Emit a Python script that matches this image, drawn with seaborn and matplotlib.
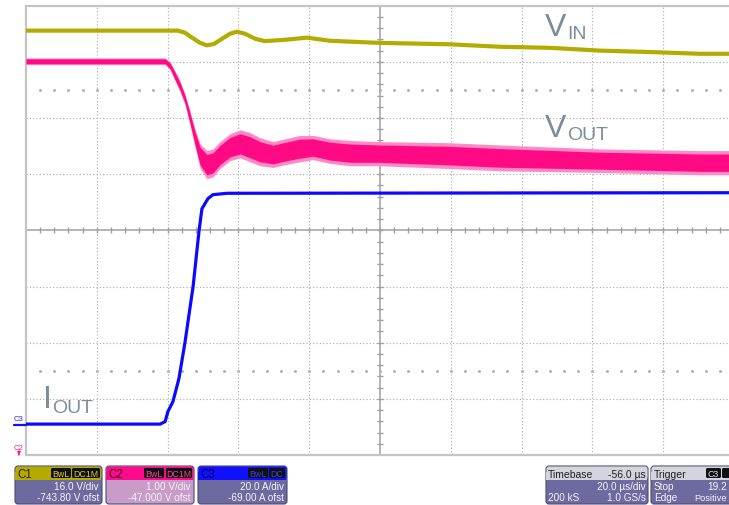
import numpy as np
import pandas as pd
import seaborn as sns
import matplotlib.pyplot as plt
from matplotlib.patches import FancyBboxPatch, Rectangle

# scope capture, time in us (trigger at 0)
t_vin = [-44.0, -1.1, 0.9, 2.9, 5.2, 7.1, 9.1, 11.4, 13.6, 15.6, 17.9, 20.7, 23.5,
         29.2, 35.4, 41.9, 56.0, 75.8, 89.9, 104.0, 118.2, 132.3, 146.4, 156.0]
vin = [800.7, 800.7, 800.1, 798.7, 797.2, 796.5, 796.9, 798.4, 799.8, 800.4, 799.8, 798.4, 797.7,
       798.1, 798.7, 797.8, 797.2, 796.8, 796.1, 795.8, 795.0, 794.6, 794.1, 794.1]

t_vout = [-44.0, -23.1, -4.7, -3.3, -1.9, -0.5, 0.9, 2.3, 3.7, 5.2, 7.1, 8.8, 10.8, 13.6, 16.5,
          19.3, 22.1, 25.8, 29.2, 33.4, 37.1, 41.9, 47.5, 56.0, 75.8, 89.9, 118.2, 146.4, 156.0]
vout_hi = [50.07, 50.07, 50.07, 50.00, 49.84, 49.66, 49.43, 49.13, 48.81, 48.54, 48.42, 48.45, 48.58, 48.72, 48.79,
           48.74, 48.65, 48.58, 48.63, 48.69, 48.69, 48.63, 48.60, 48.58, 48.56, 48.52, 48.45, 48.42, 48.42]
vout_lo = [49.95, 49.95, 49.95, 49.86, 49.66, 49.47, 49.24, 48.88, 48.49, 48.10, 47.92, 47.95, 48.10, 48.24, 48.29,
           48.22, 48.15, 48.12, 48.17, 48.22, 48.26, 48.19, 48.15, 48.15, 48.10, 48.06, 48.03, 47.99, 47.99]

t_iout = [-44.0, -6.1, -4.7, -3.9, -2.5, -0.8, 0.9, 3.2, 4.3, 4.9, 5.7, 7.4, 8.8, 12.8, 156.0]
iout = [0.0, 0.0, 0.9, 4.5, 8.0, 16.2, 29.0, 49.0, 62.0, 69.0, 76.7, 80.3, 81.7, 82.2, 82.4]

# channel settings from the scope panels
C1_SCALE, C1_OFST = 16.0, -743.80
C2_SCALE, C2_OFST = 1.00, -47.000
C3_SCALE, C3_OFST = 20.0, -69.00
T_DIV, T_DELAY = 20.0, -56.0


def to_div(v, scale, ofst):
    return (np.asarray(v) + ofst) / scale


sns.set_style("white")
plt.rcParams['font.family'] = ['Liberation Sans', 'DejaVu Sans']

W, H = 729, 506
fig = plt.figure(figsize=(W / 100, H / 100), dpi=100)
ax = fig.add_axes([26 / W, 50 / H, 708 / W, 449.3 / H])

t0 = -T_DELAY - 5 * T_DIV
ax.set_xlim(t0, t0 + 10 * T_DIV)
ax.set_ylim(-4, 4)

# graticule
grid_c = '#a9a9a9'
for k in range(1, 10):
    x = t0 + k * T_DIV
    if k == 5:
        ax.axvline(x, color='#a0a0a0', lw=1.1, zorder=1)
    else:
        ax.axvline(x, color=grid_c, lw=0.8, ls=(0, (1, 2)), zorder=1)
for k in range(-3, 4):
    if k == 0:
        ax.axhline(0, color='#a0a0a0', lw=1.1, zorder=1)
    else:
        ax.axhline(k, color=grid_c, lw=0.8, ls=(0, (1, 2)), zorder=1)
xt = t0 + np.arange(1, 50) * T_DIV / 5
yt = np.arange(-19, 20) / 5
ax.plot(xt, np.zeros_like(xt), ls='none', marker='|', ms=4.5, mew=1.0, color='#a0a0a0', zorder=1)
ax.plot(np.full_like(yt, -T_DELAY), yt, ls='none', marker='_', ms=4.5, mew=1.0, color='#a0a0a0', zorder=1)
for yy in (2.5, -2.5):
    ax.plot(xt, np.full_like(xt, yy), ls='none', marker='s', ms=1.0, color='#b0b0b0', zorder=1)

for side in ('left', 'top', 'bottom'):
    ax.spines[side].set_color('#c4c4c4')
    ax.spines[side].set_linewidth(1.6)
ax.spines['right'].set_visible(False)
ax.set_xticks([])
ax.set_yticks([])

# traces
df_vin = pd.DataFrame({'t': t_vin, 'div': to_div(vin, C1_SCALE, C1_OFST)})
df_iout = pd.DataFrame({'t': t_iout, 'div': to_div(iout, C3_SCALE, C3_OFST)})
hi = to_div(vout_hi, C2_SCALE, C2_OFST)
lo = to_div(vout_lo, C2_SCALE, C2_OFST)
mid = (hi + lo) / 2
half = (hi - lo) / 2

ax.fill_between(t_vout, lo, hi, color='#ff8ac6', lw=0, zorder=3)
ax.fill_between(t_vout, mid - 0.72 * half, mid + 0.72 * half, color='#ff0a84', lw=0, zorder=3)
sns.lineplot(data=df_iout, x='t', y='div', ax=ax, color='#0a0aff', lw=2.3,
             estimator=None, sort=False, zorder=4)
sns.lineplot(data=df_vin, x='t', y='div', ax=ax, color='#b3ac00', lw=3.0,
             estimator=None, sort=False, zorder=4)
ax.set_xlabel('')
ax.set_ylabel('')

# trigger marker
ax.plot([0], [-0.075], transform=ax.get_xaxis_transform(), marker='^', ms=6,
        color='#1010e0', clip_on=False, zorder=6)

# overlay in pixel coordinates for labels and panels
ov = fig.add_axes([0, 0, 1, 1], zorder=10)
ov.set_xlim(0, W)
ov.set_ylim(H, 0)
ov.axis('off')
ov.patch.set_alpha(0)

lab_c = '#7b8d9b'
ov.text(545, 35.5, 'V', fontsize=23, color=lab_c, va='baseline')
ov.text(567, 38.5, 'IN', fontsize=14, color=lab_c, va='baseline')
ov.text(545, 137, 'V', fontsize=23, color=lab_c, va='baseline')
ov.text(567, 140, 'OUT', fontsize=14, color=lab_c, va='baseline')
ov.text(43, 408, 'I', fontsize=23, color=lab_c, va='baseline')
ov.text(52, 413, 'OUT', fontsize=14, color=lab_c, va='baseline')

# channel markers
ov.text(19, 419.5, 'C3', fontsize=5.5, color='#2020ff', ha='center', va='center')
ov.plot([14, 26], [425.7, 425.7], color='#1010ff', lw=1.6)
ov.text(19, 449, 'C2', fontsize=5.5, color='#ff1a8c', ha='center', va='center')
ov.annotate('', xy=(19, 459), xytext=(19, 453),
            arrowprops=dict(arrowstyle='-|>', color='#ff1a8c', lw=0.8, mutation_scale=5))


def panel(x0, x1, head_c, body_c, top=467, bot=505, hh=13):
    ov.add_patch(FancyBboxPatch((x0, top), x1 - x0, bot - top,
                                boxstyle='round,pad=0,rounding_size=3',
                                fc=body_c, ec='#4c4a78', lw=0.8))
    ov.add_patch(FancyBboxPatch((x0 + 0.5, top + 0.5), x1 - x0 - 1, hh,
                                boxstyle='round,pad=0,rounding_size=2.5',
                                fc=head_c, ec='none'))
    ov.add_patch(Rectangle((x0 + 0.5, top + 6), x1 - x0 - 1, hh - 5.5, fc=head_c, ec='none'))


def badge(x0, x1, txt, c, top=469, h=10):
    ov.add_patch(FancyBboxPatch((x0, top), x1 - x0, h, boxstyle='round,pad=0,rounding_size=1.5',
                                fc='#111111', ec='none'))
    ov.text((x0 + x1) / 2, top + h / 2 + 0.5, txt, fontsize=6.3, color=c, ha='center', va='center')


body_txt = '#f4f4f8'
fs = 7.2
channels = [
    (15, 102, '#b4aa00', '#6d6a9f', 'C1', '#2a2600', [(51, 71, 'BwL'), (72, 100, 'DC1M')],
     '#d8cf20', '16.0 V/div', '-743.80 V ofst'),
    (106, 194, '#ff0a8c', '#c89bc8', 'C2', '#3a0020', [(144, 164, 'BwL'), (166, 192, 'DC1M')],
     '#ff3aa0', '1.00 V/div', '-47.000 V ofst'),
    (198, 287, '#1010ff', '#6d6a9f', 'C3', '#000050', [(248, 268, 'BwL'), (269, 285, 'DC')],
     '#3a3aff', '20.0 A/div', '-69.00 A ofst'),
]
for x0, x1, hc, bc, name, nc, badges, bcol, l2, l3 in channels:
    panel(x0, x1, hc, bc)
    ov.text(x0 + 2, 478, name, fontsize=8.3, color=nc, va='baseline')
    for b0, b1, bt in badges:
        badge(b0, b1, bt, bcol)
    ov.text(x1 - 3, 490.5, l2, fontsize=fs, color=body_txt, ha='right', va='baseline')
    ov.text(x1 - 3, 501.5, l3, fontsize=fs, color=body_txt, ha='right', va='baseline')

# timebase
panel(546, 648, '#d4d4dc', '#6d6a9f')
ov.text(548, 478, 'Timebase', fontsize=fs + 0.3, color='#202020', va='baseline')
ov.text(646, 478, '-56.0 µs', fontsize=fs + 0.3, color='#202020', ha='right', va='baseline')
ov.text(646, 490.5, '20.0 µs/div', fontsize=fs, color=body_txt, ha='right', va='baseline')
ov.text(548, 501.5, '200 kS', fontsize=fs, color=body_txt, va='baseline')
ov.text(646, 501.5, '1.0 GS/s', fontsize=fs, color=body_txt, ha='right', va='baseline')

# trigger (panel runs off the right edge as on the scope screen)
panel(651, 760, '#d4d4dc', '#6d6a9f')
ov.text(654, 478, 'Trigger', fontsize=fs + 0.3, color='#202020', va='baseline')
badge(706, 721, 'C3', '#dcdcff')
badge(722, 740, '', '#dcdcff')
ov.text(654, 490.5, 'Stop', fontsize=fs, color=body_txt, va='baseline')
ov.text(727, 490.5, '19.2', fontsize=fs, color=body_txt, ha='right', va='baseline')
ov.text(654, 501.5, 'Edge', fontsize=fs, color=body_txt, va='baseline')
ov.text(727, 501.5, 'Positive', fontsize=fs - 0.6, color=body_txt, ha='right', va='baseline')

fig.savefig('out.png', dpi=100)
